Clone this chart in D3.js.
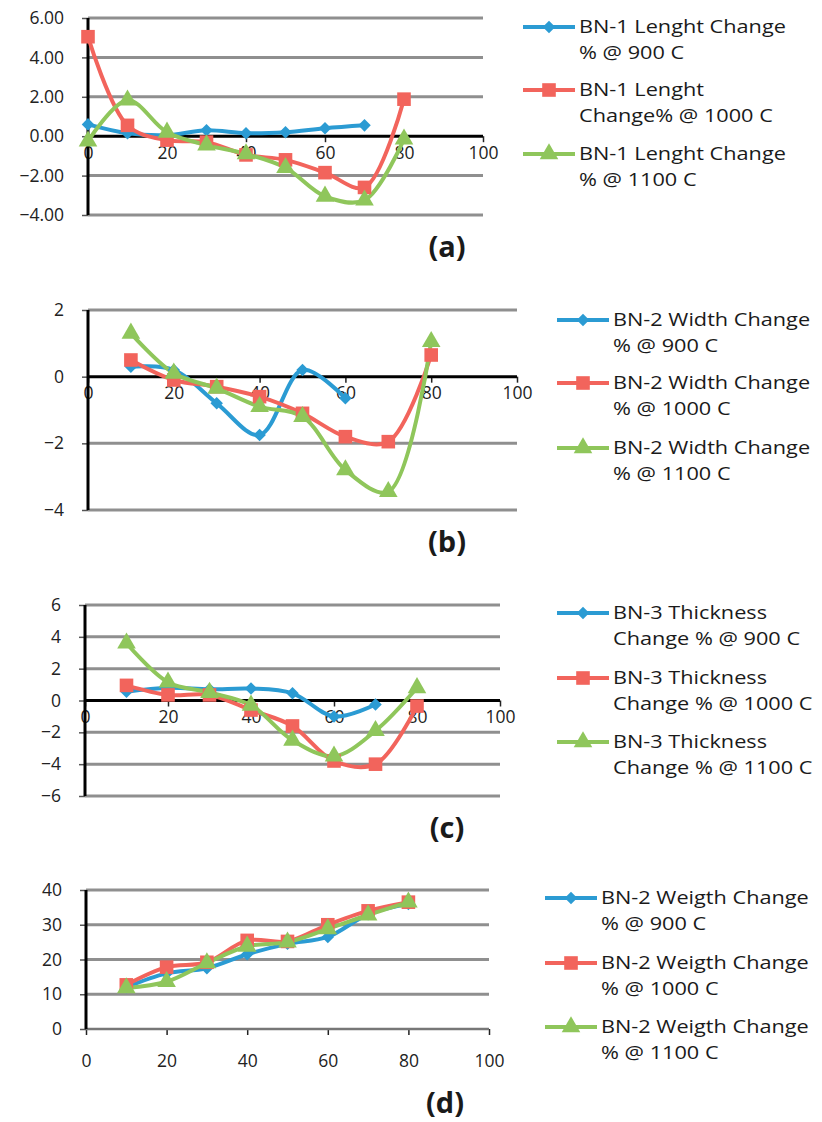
<!DOCTYPE html>
<html>
<head>
<meta charset="utf-8">
<script src="https://cdn.jsdelivr.net/npm/d3@7"></script>
<style>
  body { margin: 0; background: #fff; }
  svg { display: block; }
  text { font-family: "Open Sans", "DejaVu Sans", sans-serif; fill: #1a1a1a; }
</style>
</head>
<body>
<div id="frame"></div>
<script>
'use strict'

// x values (% of something) per series
var xFrom0 = [0, 10, 20, 30, 40, 50, 60, 70, 80]
var xFrom10 = [10, 20, 30, 40, 50, 60, 70, 80]
var xTicks = [0, 20, 40, 60, 80, 100]

// (a) length change
var lenLabels = ["BN-1 Lenght Change|% @ 900 C", "BN-1 Lenght|Change% @ 1000 C", "BN-1 Lenght Change|% @ 1100 C"]
var len900 = [0.6, 0.15, 0.05, 0.3, 0.15, 0.2, 0.4, 0.55]
var len1000 = [5.05, 0.55, -0.2, -0.3, -0.95, -1.2, -1.85, -2.6, 1.88]
var len1100 = [-0.25, 1.83, 0.2, -0.45, -0.9, -1.6, -3.05, -3.25, -0.15]
var lenTicks = [-4, -2, 0, 2, 4, 6]

// (b) width change
var widLabels = ["BN-2 Width Change|% @ 900 C", "BN-2 Width Change|% @ 1000 C", "BN-2 Width Change|% @ 1100 C"]
var wid900 = [0.3, 0.2, -0.8, -1.75, 0.2, -0.65]
var wid1000 = [0.5, -0.1, -0.3, -0.6, -1.1, -1.8, -1.95, 0.65]
var wid1100 = [1.3, 0.1, -0.35, -0.9, -1.2, -2.8, -3.45, 1.05]
var widTicks = [-4, -2, 0, 2]

// (c) thickness change
var thkLabels = ["BN-3 Thickness|Change % @ 900 C", "BN-3 Thickness|Change % @ 1000 C", "BN-3 Thickness|Change % @ 1100 C"]
var thk900 = [0.55, 0.8, 0.7, 0.75, 0.45, -1.0, -0.25]
var thk1000 = [0.95, 0.35, 0.35, -0.6, -1.6, -3.8, -4.0, -0.35]
var thk1100 = [3.6, 1.15, 0.5, -0.3, -2.5, -3.5, -1.9, 0.8]
var thkTicks = [-6, -4, -2, 0, 2, 4, 6]

// (d) weight change
var wgtLabels = ["BN-2 Weigth Change|% @ 900 C", "BN-2 Weigth Change|% @ 1000 C", "BN-2 Weigth Change|% @ 1100 C"]
var wgt900 = [12, 16, 17.5, 21.5, 24.5, 26.5, 33, 36]
var wgt1000 = [12.7, 17.8, 19.2, 25.5, 25.2, 30, 34, 36.5]
var wgt1100 = [11.8, 13.6, 19, 23.8, 25, 28.8, 32.8, 36.5]
var wgtTicks = [0, 10, 20, 30, 40]

var colors = ["#2b9bd3", "#f2645c", "#8fc65b"]
var symbols = [d3.symbolDiamond2, d3.symbolSquare, d3.symbolTriangle]
var symSize = [100, 185, 150]

var app = {}
app.svg = d3.select("#frame").append("svg")
  .attr("width", 822)
  .attr("height", 1122)

var zip = (xs, ys) => ys.map((y, i) => ({x: xs[i], y: y}))

app.panels = [
  {left: 88, right: 483, top: 18, bottom: 215, domain: [-4, 6], ticks: lenTicks, fmt: d3.format(".2f"),
   series: [zip(xFrom0, len900), zip(xFrom0, len1000), zip(xFrom0, len1100)], labels: lenLabels,
   legX: 523, legY: [27, 90, 154], tag: "(a)", tagX: 447, tagY: 247},
  {left: 88, right: 517, top: 310, bottom: 510, domain: [-4, 2], ticks: widTicks, fmt: d3.format("d"),
   series: [zip(xFrom10, wid900), zip(xFrom10, wid1000), zip(xFrom10, wid1100)], labels: widLabels,
   legX: 557, legY: [320, 383, 448], tag: "(b)", tagX: 447, tagY: 542},
  {left: 85, right: 500, top: 605, bottom: 796, domain: [-6, 6], ticks: thkTicks, fmt: d3.format("d"),
   series: [zip(xFrom10, thk900), zip(xFrom10, thk1000), zip(xFrom10, thk1100)], labels: thkLabels,
   legX: 557, legY: [613, 678, 742], tag: "(c)", tagX: 447, tagY: 828},
  {left: 86, right: 489, top: 890, bottom: 1029, domain: [0, 40], ticks: wgtTicks, fmt: d3.format("d"),
   series: [zip(xFrom10, wgt900), zip(xFrom10, wgt1000), zip(xFrom10, wgt1100)], labels: wgtLabels,
   legX: 545, legY: [898, 963, 1027], tag: "(d)", tagX: 445, tagY: 1103, bottomAxis: true}
]

app.drawPanel = function(p) {
  var g = app.svg.append("g")
  var x = d3.scaleLinear().domain([0, 100]).range([p.left, p.right])
  var y = d3.scaleLinear().domain(p.domain).range([p.bottom, p.top])

  // gridlines (zero is the axis)
  g.append("g").selectAll("line")
    .data(p.ticks.filter(t => t !== 0))
    .enter().append("line")
    .attr("x1", p.left).attr("x2", p.right)
    .attr("y1", d => y(d)).attr("y2", d => y(d))
    .style("stroke", "#8f8f8f").style("stroke-width", 3)

  // y axis
  var yAxis = d3.axisLeft(y).tickValues(p.ticks).tickFormat(p.fmt).tickSize(6).tickPadding(18)
  var ya = g.append("g").attr("transform", "translate(" + p.left + ",0)").call(yAxis)
  ya.select(".domain").remove()
  ya.selectAll(".tick line").style("stroke", "#555").style("stroke-width", 1.5)
  ya.selectAll("text").style("font-size", "17.5px").style("fill", "#222")

  // x axis
  var yx = p.bottomAxis ? p.bottom : y(0)
  var xAxis = d3.axisBottom(x).tickValues(xTicks).tickSize(6).tickPadding(p.bottomAxis ? 20 : 4)
  var xa = g.append("g").attr("transform", "translate(0," + yx + ")").call(xAxis)
  xa.select(".domain").remove()
  xa.selectAll(".tick line").style("stroke", "#222").style("stroke-width", 1.5)
  xa.selectAll("text").style("font-size", "17.5px").style("fill", "#222")
  g.append("line")
    .attr("x1", p.left).attr("x2", p.right).attr("y1", yx).attr("y2", yx)
    .style("stroke", p.bottomAxis ? "#777" : "#000").style("stroke-width", p.bottomAxis ? 2.5 : 3)
  g.append("line")
    .attr("x1", p.left).attr("x2", p.left).attr("y1", p.top).attr("y2", p.bottom)
    .style("stroke", "#000").style("stroke-width", 3)

  // series
  var line = d3.line().x(d => x(d.x)).y(d => y(d.y)).curve(d3.curveCatmullRom.alpha(0.5))
  p.series.forEach(function(s, i) {
    g.append("path").datum(s)
      .attr("d", line)
      .style("fill", "none").style("stroke", colors[i]).style("stroke-width", 4)
  })
  p.series.forEach(function(s, i) {
    g.append("g").selectAll("path").data(s).enter().append("path")
      .attr("transform", d => "translate(" + x(d.x) + "," + y(d.y) + ")")
      .attr("d", d3.symbol().type(symbols[i]).size(symSize[i]))
      .style("fill", colors[i])
  })

  // legend
  p.labels.forEach(function(lab, i) {
    var ly = p.legY[i]
    var lg = g.append("g")
    lg.append("line")
      .attr("x1", p.legX).attr("x2", p.legX + 52).attr("y1", ly).attr("y2", ly)
      .style("stroke", colors[i]).style("stroke-width", 4)
    lg.append("path")
      .attr("transform", "translate(" + (p.legX + 26) + "," + ly + ")")
      .attr("d", d3.symbol().type(symbols[i]).size(symSize[i]))
      .style("fill", colors[i])
    lab.split("|").forEach(function(t, k) {
      lg.append("text")
        .attr("transform", "translate(" + (p.legX + 56) + "," + (ly + 6 + k * 26) + ") scale(1.24,1)")
        .style("font-size", "17.5px")
        .text(t)
    })
  })

  g.append("text")
    .attr("x", p.tagX).attr("y", p.tagY + 10)
    .attr("text-anchor", "middle")
    .style("font-size", "29px").style("font-weight", "bold")
    .text(p.tag)
}

app.panels.forEach(p => app.drawPanel(p))
</script>
</body>
</html>
